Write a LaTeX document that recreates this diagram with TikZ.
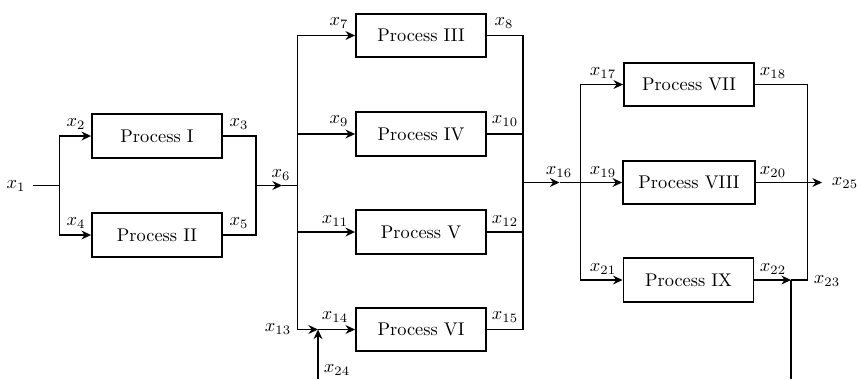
\documentclass[tikz,border=0pt]{standalone}
\usetikzlibrary{arrows.meta}
\begin{document}
\begin{tikzpicture}[x=0.5435pt,y=-0.5435pt,line width=0.95pt,
  proc/.style={draw,line width=0.95pt,minimum width=70.7pt,minimum height=23.6pt,inner sep=0pt},
  flow/.style={-{Stealth[length=5.2pt,width=4.8pt,inset=1.7pt]}},
  lab/.style={inner sep=0pt}]
\useasboundingbox (0,0) rectangle (857,379);
% boxes
\node[proc] (p1) at (157,136) {Process I};
\node[proc] (p2) at (157,235) {Process II};
\node[proc] (p3) at (421,35.5) {Process III};
\node[proc] (p4) at (421,134) {Process IV};
\node[proc] (p5) at (421,232) {Process V};
\node[proc] (p6) at (421,329.5) {Process VI};
\node[proc] (p7) at (689,84.5) {Process VII};
\node[proc,minimum width=71.7pt] (p8) at (689,182.5) {Process VIII};
\node[proc] (p9) at (688.5,280) {Process IX};
% junctions
\coordinate (in) at (33,185.5);
\coordinate (s1) at (59.5,185.5);
\coordinate (m1) at (256,185.5);
\coordinate (t6) at (282,185.5);
\coordinate (s2) at (297.5,185.5);
\coordinate (j24) at (318,329.5);
\coordinate (b24) at (318,379);
\coordinate (m2) at (523,182.5);
\coordinate (t16) at (559.5,182.5);
\coordinate (s3) at (580.5,182.5);
\coordinate (r) at (807.5,280);
\coordinate (j23) at (791,280);
\coordinate (b23) at (791,379);
\coordinate (out) at (822,182.5);
% connectors
\draw (in) -- (s1);
\draw[flow] (s1) |- (p1.west);
\draw[flow] (s1) |- (p2.west);
\draw (p1.east) -| (m1);
\draw (p2.east) -| (m1);
\draw[flow] (m1) -- (t6);
\draw (t6) -- (s2);
\draw[flow] (s2) |- (p3.west);
\draw[flow] (s2) |- (p4.west);
\draw[flow] (s2) |- (p5.west);
\draw[flow] (s2) |- (j24);
\draw[flow] (j24) -- (p6.west);
\draw[flow] (b24) -- (j24);
\draw (p3.east) -| (m2);
\draw (p4.east) -| (m2);
\draw (p5.east) -| (m2);
\draw (p6.east) -| (m2);
\draw[flow] (m2) -- (t16);
\draw (t16) -- (s3);
\draw[flow] (s3) |- (p7.west);
\draw[flow] (s3) -- (p8.west);
\draw[flow] (s3) |- (p9.west);
\draw (p7.east) -| (r) -- (j23);
\draw[flow] (p8.east) -- (out);
\draw[flow] (p9.east) -- (j23);
\draw (j23) -- (b23);
% labels
\node[lab] (l1) at (16,186) {$x_1$};
\node[lab] (l2) at (76,124) {$x_2$};
\node[lab] (l3) at (239,124) {$x_3$};
\node[lab] (l4) at (76,223) {$x_4$};
\node[lab] (l5) at (239,223) {$x_5$};
\node[lab] (l6) at (281,175) {$x_6$};
\node[lab] (l7) at (339,23) {$x_7$};
\node[lab] (l8) at (504,23) {$x_8$};
\node[lab] (l9) at (339,121) {$x_9$};
\node[lab] (l10) at (505,121) {$x_{10}$};
\node[lab] (l11) at (335,221) {$x_{11}$};
\node[lab] (l12) at (505,221) {$x_{12}$};
\node[lab] (l13) at (278,329) {$x_{13}$};
\node[lab] (l14) at (335,317) {$x_{14}$};
\node[lab] (l15) at (505,317) {$x_{15}$};
\node[lab] (l16) at (559,172) {$x_{16}$};
\node[lab] (l17) at (603,73) {$x_{17}$};
\node[lab] (l18) at (773,73) {$x_{18}$};
\node[lab] (l19) at (603,172) {$x_{19}$};
\node[lab] (l20) at (773,172) {$x_{20}$};
\node[lab] (l21) at (603,269) {$x_{21}$};
\node[lab] (l22) at (773,269) {$x_{22}$};
\node[lab] (l23) at (827,281) {$x_{23}$};
\node[lab] (l24) at (337,370) {$x_{24}$};
\node[lab] (l25) at (845,183) {$x_{25}$};
\end{tikzpicture}
\end{document}
